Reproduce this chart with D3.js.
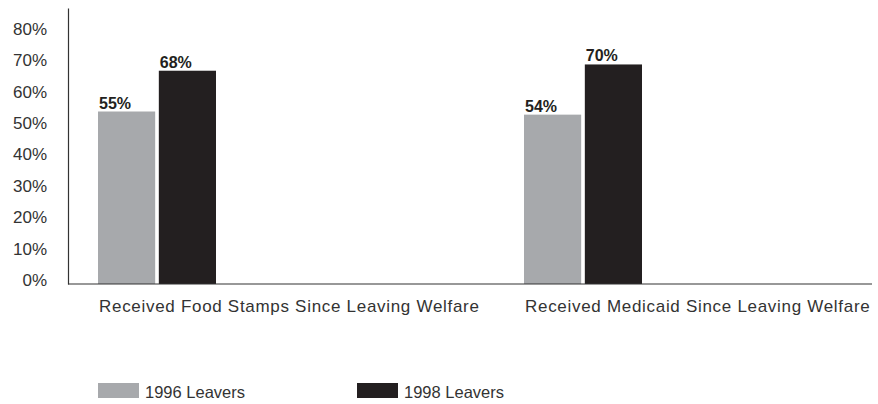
<!DOCTYPE html>
<html>
<head>
<meta charset="utf-8">
<script src="https://cdn.jsdelivr.net/npm/d3@7"></script>
<style>
    body { margin: 0; background: #fff; }
    text { font-family: "Liberation Sans", Arial, sans-serif; }
</style>
</head>
<body>
<div id="chart"></div>
<script>

// data
let categories = ["Received Food Stamps Since Leaving Welfare", "Received Medicaid Since Leaving Welfare"];
let seriesNames = ["1996 Leavers", "1998 Leavers"];
let leavers1996 = [55, 54];
let leavers1998 = [68, 70];
let yTicks = [0, 10, 20, 30, 40, 50, 60, 70, 80];

let colors = {"1996 Leavers": "#a7a9ac", "1998 Leavers": "#231f20"};

// build rows for the bars
let rows = [];
categories.forEach((c, i) => {
    rows.push({cat: c, series: seriesNames[0], value: leavers1996[i]});
    rows.push({cat: c, series: seriesNames[1], value: leavers1998[i]});
});

let width = 878, height = 404;

let svg = d3.select("#chart").append("svg")
    .attr("width", width)
    .attr("height", height);

// scales
let y = d3.scaleLinear()
    .domain([0, 88])
    .range([284, 8]);

let x = d3.scaleBand()
    .domain(categories)
    .range([98, 950])
    .paddingInner(0);

let xSub = d3.scaleBand()
    .domain(seriesNames)
    .range([0, 118])
    .paddingInner(0.06);

// y axis: line and labels, no tick marks
let yAxis = d3.axisLeft(y)
    .tickValues(yTicks)
    .tickSize(0)
    .tickPadding(21)
    .tickFormat(d => d + "%");

let yg = svg.append("g")
    .attr("class", "y-axis")
    .attr("transform", "translate(68,0)")
    .call(yAxis);

yg.select(".domain").attr("stroke", "#333").attr("stroke-width", 1.2);
yg.selectAll("text")
    .attr("font-size", 17)
    .attr("fill", "#333")
    .attr("dy", "0.08em");

// bars
svg.selectAll("rect.bar")
    .data(rows)
    .enter()
    .append("rect")
    .attr("class", "bar")
    .attr("x", d => x(d.cat) + xSub(d.series))
    .attr("y", d => y(d.value))
    .attr("width", xSub.bandwidth())
    .attr("height", d => y(0) - y(d.value))
    .attr("fill", d => colors[d.series]);

// value labels
svg.selectAll("text.val")
    .data(rows)
    .enter()
    .append("text")
    .attr("class", "val")
    .attr("x", d => x(d.cat) + xSub(d.series) + 1)
    .attr("y", d => y(d.value) - 3)
    .attr("font-size", 16)
    .attr("font-weight", "bold")
    .attr("fill", "#231f20")
    .text(d => d.value + "%");

// x axis line
svg.append("line")
    .attr("x1", 68)
    .attr("x2", 872)
    .attr("y1", y(0))
    .attr("y2", y(0))
    .attr("stroke", "#333")
    .attr("stroke-width", 1.2);

// category labels
svg.selectAll("text.cat")
    .data(categories)
    .enter()
    .append("text")
    .attr("class", "cat")
    .attr("x", d => x(d) + 1)
    .attr("y", 312)
    .attr("font-size", 17)
    .attr("letter-spacing", 0.7)
    .attr("fill", "#333")
    .text(d => d);

// legend
let legendX = d3.scaleOrdinal()
    .domain(seriesNames)
    .range([98, 357]);

let legend = svg.selectAll("g.legend")
    .data(seriesNames)
    .enter()
    .append("g")
    .attr("class", "legend")
    .attr("transform", d => `translate(${legendX(d)}, 383)`);

legend.append("rect")
    .attr("width", 41)
    .attr("height", 15)
    .attr("fill", d => colors[d]);

legend.append("text")
    .attr("x", 47)
    .attr("y", 15)
    .attr("font-size", 16.5)
    .attr("fill", "#333")
    .text(d => d);

</script>
</body>
</html>
